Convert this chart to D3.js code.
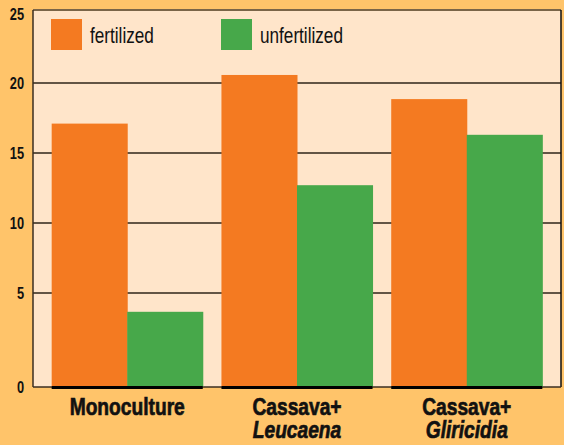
<!DOCTYPE html>
<html>
<head>
<meta charset="utf-8">
<script src="https://cdn.jsdelivr.net/npm/d3@7"></script>
<style>
  body { margin: 0; background: #FFC46A; }
  svg { display: block; }
  text { font-family: "Liberation Sans", Arial, sans-serif; fill: #111; }
</style>
</head>
<body>
<svg width="564" height="445"></svg>
<script>
const categories = ["Monoculture", "Cassava+|Leucaena", "Cassava+|Gliricidia"];
const series = ["fertilized", "unfertilized"];
const fertilized = [17.1, 20.55, 18.85];
const unfertilized = [4.0, 12.7, 16.3];
const yTicks = [0, 5, 10, 15, 20, 25];

const colors = { fertilized: "#F47A21", unfertilized: "#47A84A" };
const narrow = "scale(0.8,1)"; // fake a condensed face

const svg = d3.select("svg");
const plotL = 33, plotR = 561, plotT = 10, plotB = 387;

// the original axis is uneven (0–5 is stretched), so map ticks piecewise
const y = d3.scaleLinear()
  .domain(yTicks)
  .range([387, 293, 223, 153, 83, 10]);

const x = d3.scaleBand()
  .domain(categories)
  .range([plotL, plotR])
  .paddingInner(0.11)
  .paddingOuter(0.11);

const xSub = d3.scaleBand()
  .domain(series)
  .range([0, x.bandwidth()]);

// plot panel
svg.append("rect")
  .attr("x", plotL).attr("y", plotT)
  .attr("width", plotR - plotL).attr("height", plotB - plotT)
  .attr("fill", "#FFE5CA");

// gridlines
svg.append("g")
  .selectAll("line")
  .data(yTicks.filter(d => d > 0 && d < 25))
  .join("line")
  .attr("x1", plotL).attr("x2", plotR)
  .attr("y1", d => y(d)).attr("y2", d => y(d))
  .attr("stroke", "#2f2418")
  .attr("stroke-width", 1.5);

// frame
svg.append("line").attr("x1", plotL).attr("x2", plotR).attr("y1", plotT).attr("y2", plotT)
  .attr("stroke", "#7a6548").attr("stroke-width", 2);
svg.append("line").attr("x1", plotL).attr("x2", plotL).attr("y1", plotT).attr("y2", plotB)
  .attr("stroke", "#3b2e20").attr("stroke-width", 1.5);
svg.append("line").attr("x1", plotR).attr("x2", plotR).attr("y1", plotT).attr("y2", plotB)
  .attr("stroke", "#111").attr("stroke-width", 1.5);
svg.append("line").attr("x1", plotL).attr("x2", plotR).attr("y1", plotB).attr("y2", plotB)
  .attr("stroke", "#3b2e20").attr("stroke-width", 1.5);

// bars
const rows = categories.map((c, i) => ({ cat: c, fertilized: fertilized[i], unfertilized: unfertilized[i] }));

const groups = svg.append("g")
  .selectAll("g")
  .data(rows)
  .join("g")
  .attr("transform", d => `translate(${x(d.cat)},0)`);

groups.selectAll("rect")
  .data(d => series.map(s => ({ key: s, value: d[s] })))
  .join("rect")
  .attr("x", d => xSub(d.key))
  .attr("y", d => y(d.value))
  .attr("width", xSub.bandwidth() + 0.5)
  .attr("height", d => y(0) - y(d.value))
  .attr("fill", d => colors[d.key]);

groups.append("line")
  .attr("x1", 0).attr("x2", x.bandwidth())
  .attr("y1", plotB + 0.5).attr("y2", plotB + 0.5)
  .attr("stroke", "#000").attr("stroke-width", 3);

// y tick labels
svg.append("g")
  .selectAll("g")
  .data(yTicks)
  .join("g")
  .attr("transform", d => `translate(24,${y(d) + (d === 25 ? 10 : 6)})`)
  .append("text")
  .attr("transform", narrow)
  .attr("text-anchor", "end")
  .attr("font-size", 16)
  .attr("font-weight", 600)
  .text(d => d);

// category labels
groups.each(function (d) {
  const parts = d.cat.split("|");
  const t = d3.select(this).append("g")
    .attr("transform", `translate(${x.bandwidth() / 2},415)`)
    .append("text")
    .attr("transform", narrow)
    .attr("text-anchor", "middle")
    .attr("font-size", 24)
    .attr("font-weight", "bold")
    .attr("stroke", "#111")
    .attr("stroke-width", 0.7);
  t.append("tspan").text(parts[0]);
  if (parts[1]) {
    t.append("tspan")
      .attr("x", 0)
      .attr("dy", 23)
      .attr("font-style", "italic")
      .text(parts[1]);
  }
});

// legend
const legendX = [51, 221];
const legend = svg.append("g")
  .selectAll("g")
  .data(series)
  .join("g")
  .attr("transform", (d, i) => `translate(${legendX[i]},19)`);

legend.append("rect")
  .attr("width", 31).attr("height", 31)
  .attr("fill", d => colors[d]);

legend.append("g")
  .attr("transform", "translate(39,24)")
  .append("text")
  .attr("transform", "scale(0.78,1)")
  .attr("font-size", 22)
  .text(d => d);
</script>
</body>
</html>
